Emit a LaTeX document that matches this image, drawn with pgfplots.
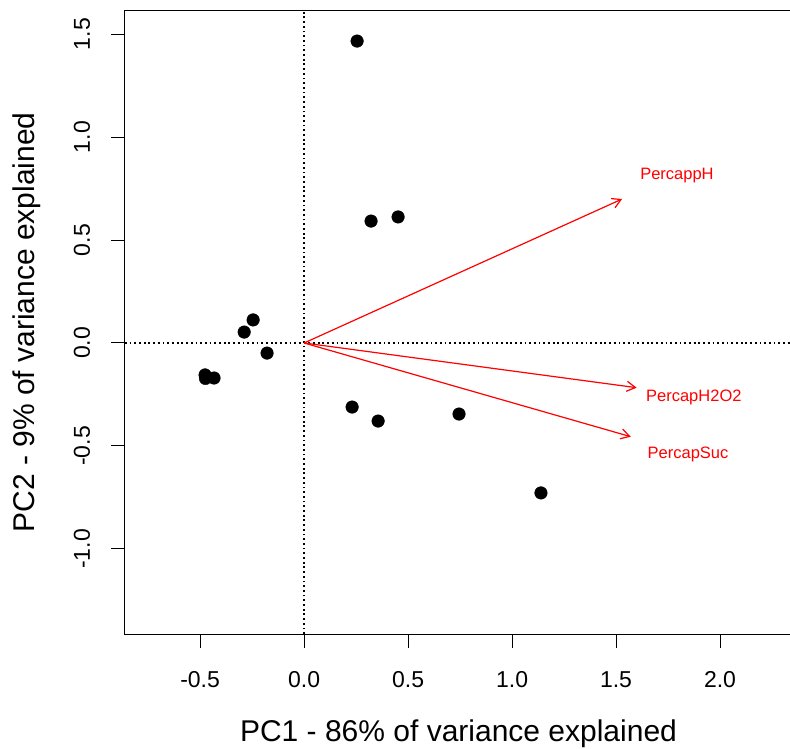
\documentclass[border=0pt]{standalone}
\usepackage{pgfplots}
\pgfplotsset{compat=1.18}
\usepackage{fontspec}
\setmainfont{Liberation Sans}
\usetikzlibrary{arrows.meta}
\begin{document}
\begin{tikzpicture}
\useasboundingbox (0,0) rectangle (790pt,748pt);
\begin{axis}[
  at={(125pt,114pt)}, anchor=south west,
  scale only axis, width=667pt, height=623pt,
  xmin=-0.861, xmax=2.346, ymin=-1.413, ymax=1.612,
  axis line style={line width=1pt},
  tick style={line width=1pt, black},
  tick align=outside, major tick length=14pt,
  xtick pos=bottom, ytick pos=left,
  xtick={-0.5,0,0.5,1,1.5,2},
  xticklabels={-0.5,0.0,0.5,1.0,1.5,2.0},
  ytick={-1,-0.5,0,0.5,1,1.5},
  yticklabels={-1.0,-0.5,0.0,0.5,1.0,1.5},
  xticklabel style={font=\fontsize{23}{26}\selectfont, anchor=base, yshift=-39pt},
  yticklabel style={font=\fontsize{23}{26}\selectfont, xshift=-21pt, rotate=90, anchor=base},
  every axis x label/.style={at={(axis description cs:0.5,0)}, anchor=base, yshift=-107.7pt, font=\fontsize{30}{34}\selectfont},
  every axis y label/.style={at={(axis description cs:0,0.5)}, xshift=-90pt, rotate=90, anchor=base, font=\fontsize{30}{34}\selectfont},
  xlabel={PC1 - 86\% of variance explained},
  ylabel={PC2 - 9\% of variance explained},
  clip=true,
]
% reference lines
\addplot[black, line width=1.2pt, dash pattern=on 1.8pt off 2.9pt] coordinates {(0,-1.413) (0,1.612)};
\addplot[black, line width=1.2pt, dash pattern=on 1.8pt off 2.9pt] coordinates {(-0.861,0) (2.346,0)};
% scores
\addplot[only marks, mark=*, mark size=6.3pt, black, fill=black] table {
x y
0.255 1.466
0.322 0.592
0.452 0.612
-0.245 0.112
-0.288 0.053
-0.178 -0.049
-0.476 -0.155
-0.474 -0.172
-0.433 -0.170
0.231 -0.311
0.356 -0.379
0.745 -0.345
1.139 -0.728
};
% loadings
\addplot[red, line width=1.2pt, -{Straight Barb[length=8.7pt,width=10pt]}] coordinates {(0,0) (1.529,0.699)};
\addplot[red, line width=1.2pt, -{Straight Barb[length=8.7pt,width=10pt]}] coordinates {(0,0) (1.599,-0.217)};
\addplot[red, line width=1.2pt, -{Straight Barb[length=8.7pt,width=10pt]}] coordinates {(0,0) (1.571,-0.455)};
\node[red, anchor=base, inner sep=0pt, font=\fontsize{16.5}{18}\selectfont] at (axis cs:1.793,0.796) {PercappH};
\node[red, anchor=base, inner sep=0pt, font=\fontsize{16.5}{18}\selectfont] at (axis cs:1.874,-0.282) {PercapH2O2};
\node[red, anchor=base, inner sep=0pt, font=\fontsize{16.5}{18}\selectfont] at (axis cs:1.846,-0.560) {PercapSuc};
\end{axis}
\end{tikzpicture}
\end{document}
